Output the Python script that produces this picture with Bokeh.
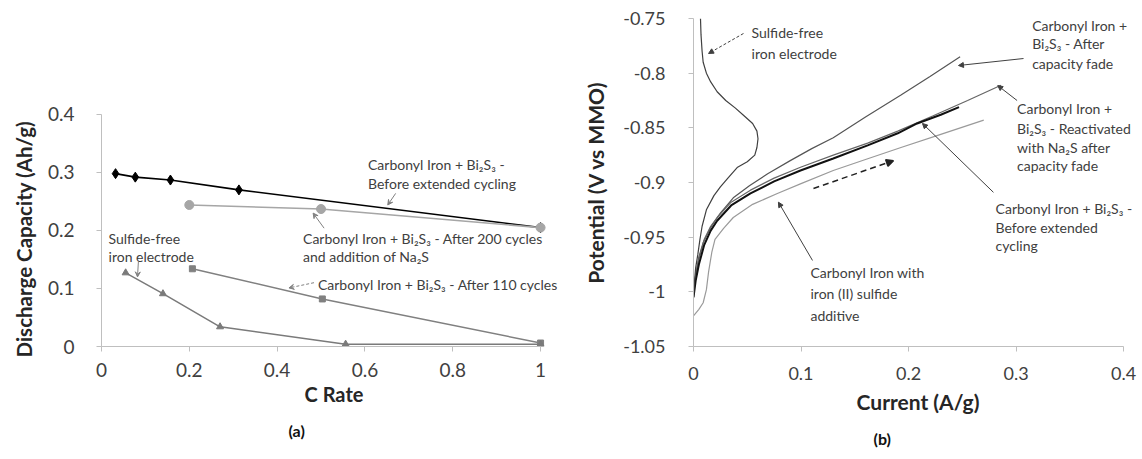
from bokeh.plotting import figure
from bokeh.layouts import row
from bokeh.models import Range1d, Label, Arrow, NormalHead, VeeHead, NumeralTickFormatter, FixedTicker, Title
from bokeh.embed import file_html
from bokeh.resources import INLINE

# ---------------- data: panel (a) ----------------
c_rate_before = [0.032, 0.077, 0.157, 0.313, 1.0]
cap_before = [0.298, 0.292, 0.287, 0.270, 0.205]
c_rate_200 = [0.2, 0.5, 1.0]
cap_200 = [0.244, 0.237, 0.205]
c_rate_110 = [0.207, 0.503, 1.0]
cap_110 = [0.134, 0.082, 0.006]
c_rate_free = [0.055, 0.14, 0.27, 0.556, 1.0]
cap_free = [0.127, 0.091, 0.034, 0.004, 0.004]
a_xticks = [0, 0.2, 0.4, 0.6, 0.8, 1]
a_yticks = [0, 0.1, 0.2, 0.3, 0.4]

# ---------------- data: panel (b) ----------------
cur_free = [0.0, 0.001, 0.002, 0.004, 0.006, 0.008, 0.012, 0.019, 0.025, 0.032,
            0.041, 0.050, 0.057, 0.059, 0.060, 0.059, 0.055, 0.047, 0.039, 0.030,
            0.022, 0.016, 0.012, 0.009, 0.008, 0.007, 0.0065]
pot_free = [-1.005, -0.99, -0.978, -0.966, -0.952, -0.94, -0.925, -0.912, -0.904, -0.896,
            -0.886, -0.881, -0.875, -0.868, -0.86, -0.853, -0.846, -0.839, -0.832, -0.825,
            -0.817, -0.808, -0.800, -0.79, -0.78, -0.765, -0.75]
cur_fade = [0.0, 0.002, 0.005, 0.009, 0.016, 0.025, 0.037, 0.052, 0.069, 0.09, 0.11, 0.13, 0.16, 0.193, 0.22, 0.248]
pot_fade = [-1.0, -0.985, -0.968, -0.955, -0.941, -0.928, -0.914, -0.903, -0.892, -0.88, -0.869, -0.859, -0.84, -0.820, -0.803, -0.785]
cur_react = [0.0, 0.002, 0.005, 0.01, 0.016, 0.022, 0.035, 0.053, 0.075, 0.0995, 0.13, 0.162, 0.19, 0.223, 0.255, 0.286]
pot_react = [-1.0, -0.985, -0.97, -0.952, -0.94, -0.932, -0.918, -0.907, -0.896, -0.886, -0.875, -0.864, -0.853, -0.839, -0.825, -0.811]
cur_before = [0.0, 0.002, 0.005, 0.01, 0.016, 0.022, 0.035, 0.053, 0.075, 0.0995, 0.13, 0.162, 0.19, 0.208, 0.23, 0.247]
pot_before = [-1.005, -0.99, -0.975, -0.957, -0.944, -0.935, -0.921, -0.910, -0.899, -0.889, -0.878, -0.866, -0.855, -0.846, -0.838, -0.831]
cur_fes = [0.0, 0.005, 0.009, 0.012, 0.014, 0.017, 0.020, 0.028, 0.037, 0.055, 0.078, 0.10, 0.13, 0.16, 0.193, 0.23, 0.270]
pot_fes = [-1.022, -1.016, -1.010, -0.998, -0.982, -0.964, -0.952, -0.942, -0.932, -0.920, -0.910, -0.901, -0.889, -0.879, -0.868, -0.856, -0.843]
b_xticks = [0, 0.1, 0.2, 0.3, 0.4]
b_yticks = [-0.75, -0.8, -0.85, -0.9, -0.95, -1, -1.05]

FONT = "Lato"
AXIS_GRAY = "#bfbfbf"
TXT = "#404040"
TOP, BOTTOM, HEIGHT = 18, 111, 457


def style_axes(p, tick_size, title_size, xl_standoff, yl_standoff, xt_standoff, yt_standoff):
    p.grid.visible = False
    p.outline_line_color = None
    for ax in (p.xaxis, p.yaxis):
        ax.axis_line_color = AXIS_GRAY
        ax.major_tick_line_color = AXIS_GRAY
        ax.major_tick_out = 5
        ax.major_tick_in = 0
        ax.minor_tick_line_color = None
        ax.major_label_text_font = FONT
        ax.major_label_text_font_size = tick_size
        ax.major_label_text_color = TXT
        ax.axis_label_text_font = FONT
        ax.axis_label_text_font_style = "bold"
        ax.axis_label_text_font_size = title_size
        ax.axis_label_text_color = "#262626"
        ax.formatter = NumeralTickFormatter(format="0.[00]")
    p.xaxis.axis_label_standoff = xl_standoff
    p.yaxis.axis_label_standoff = yl_standoff
    p.xaxis.major_label_standoff = xt_standoff
    p.yaxis.major_label_standoff = yt_standoff


def label(p, x, y, text, size, color=TXT):
    p.add_layout(Label(x=x, y=y, text=text, text_font=FONT, text_font_size=size,
                       text_color=color, text_baseline="middle", text_align="left"))


def arrow(p, x0, y0, x1, y1, color, width=1.0, dash="solid", head_size=6, vee=False):
    head = (VeeHead(size=head_size, line_color=color, fill_color=color, line_width=width) if vee
            else NormalHead(size=head_size, line_color=color, fill_color=color, line_width=width))
    p.add_layout(Arrow(end=head, x_start=x0, y_start=y0, x_end=x1, y_end=y1,
                       line_color=color, line_width=width, line_dash=dash))


def side_title(p, text, side, size, offset, standoff, color="#111111"):
    p.add_layout(Title(text=text, align="left", text_font=FONT, text_font_size=size,
                       text_font_style="bold", text_color=color, offset=offset,
                       standoff=standoff), side)


# ================= panel (a) =================
p1 = figure(width=566, height=HEIGHT, x_range=Range1d(0, 1.0591), y_range=Range1d(0, 0.5655),
            output_backend="svg", toolbar_location=None,
            min_border_left=100, min_border_right=0, min_border_top=TOP, min_border_bottom=BOTTOM,
            x_axis_label="C Rate")
style_axes(p1, "19px", "20px", 2, 0, 11, 22)
p1.xaxis.ticker = FixedTicker(ticks=a_xticks)
p1.yaxis.ticker = FixedTicker(ticks=a_yticks)
p1.xaxis.bounds = (0, 1)
p1.yaxis.bounds = (0, 0.4)
side_title(p1, "Discharge Capacity (Ah/g)", "left", "20.5px", -11, 18, color="#262626")

p1.line(c_rate_before, cap_before, line_color="black", line_width=1.6)
p1.scatter(c_rate_before, cap_before, marker="diamond", size=10, color="black")
p1.line(c_rate_200, cap_200, line_color="#a6a6a6", line_width=1.6)
p1.scatter(c_rate_200, cap_200, marker="circle", size=9, color="#a6a6a6")
p1.line(c_rate_110, cap_110, line_color="#808080", line_width=1.5)
p1.scatter(c_rate_110, cap_110, marker="square", size=6, color="#808080")
p1.line(c_rate_free, cap_free, line_color="#7a7a7a", line_width=1.5)
p1.scatter(c_rate_free, cap_free, marker="triangle", size=7, color="#7a7a7a")

label(p1, 0.607, 0.314, "Carbonyl Iron + Bi₂S₃ -", "14px")
label(p1, 0.607, 0.2815, "Before extended cycling", "14px")
arrow(p1, 0.670, 0.264, 0.652, 0.244, "#808080", vee=True, head_size=5)
label(p1, 0.459, 0.187, "Carbonyl Iron + Bi₂S₃ - After 200 cycles", "14px")
label(p1, 0.459, 0.1545, "and addition of Na₂S", "14px")
arrow(p1, 0.507, 0.204, 0.482, 0.230, "#808080", vee=True, head_size=5)
label(p1, 0.493, 0.1064, "Carbonyl Iron + Bi₂S₃ - After 110 cycles", "14px")
arrow(p1, 0.484, 0.110, 0.427, 0.101, "#808080", dash="3 2", vee=True, head_size=5)
label(p1, 0.016, 0.187, "Sulfide-free", "14px")
label(p1, 0.016, 0.156, "iron electrode", "14px")
arrow(p1, 0.084, 0.146, 0.082, 0.120, "#808080", vee=True, head_size=5)
side_title(p1, "(a)", "below", "16px", 187, 21)

# ================= panel (b) =================
p2 = figure(width=576, height=HEIGHT, x_range=Range1d(0, 0.41767), y_range=Range1d(-1.05, -0.75),
            output_backend="svg", toolbar_location=None,
            min_border_left=127, min_border_right=0, min_border_top=TOP, min_border_bottom=BOTTOM,
            x_axis_label="Current (A/g)", y_axis_label="Potential (V vs MMO)")
style_axes(p2, "18px", "21px", 6, 12, 15, 23)
p2.xaxis.ticker = FixedTicker(ticks=b_xticks)
p2.yaxis.ticker = FixedTicker(ticks=b_yticks)
p2.xaxis.bounds = (0, 0.4)

p2.line(cur_fes, pot_fes, line_color="#9a9a9a", line_width=1.2)
p2.line(cur_fade, pot_fade, line_color="#555555", line_width=1.2)
p2.line(cur_react, pot_react, line_color="#666666", line_width=1.2)
p2.line(cur_before, pot_before, line_color="#111111", line_width=2.0)
p2.line(cur_free, pot_free, line_color="#404040", line_width=1.2)

label(p2, 0.054, -0.7628, "Sulfide-free", "14px")
label(p2, 0.054, -0.782, "iron electrode", "14px")
arrow(p2, 0.0465, -0.7637, 0.014, -0.782, "#404040", dash="3 2", head_size=5)

label(p2, 0.315, -0.7564, "Carbonyl Iron +", "14px")
label(p2, 0.315, -0.7729, "Bi₂S₃ - After", "14px")
label(p2, 0.315, -0.7912, "capacity fade", "14px")
arrow(p2, 0.307, -0.7866, 0.2465, -0.793, "#404040", head_size=5)

label(p2, 0.301, -0.8323, "Carbonyl Iron +", "14px")
label(p2, 0.301, -0.8506, "Bi₂S₃ - Reactivated", "14px")
label(p2, 0.301, -0.868, "with Na₂S after", "14px")
label(p2, 0.301, -0.8845, "capacity fade", "14px")
arrow(p2, 0.301, -0.825, 0.283, -0.8113, "#404040", head_size=5)

label(p2, 0.281, -0.9238, "Carbonyl Iron + Bi₂S₃ -", "14px")
label(p2, 0.281, -0.9412, "Before extended", "14px")
label(p2, 0.281, -0.9576, "cycling", "14px")
arrow(p2, 0.279, -0.909, 0.213, -0.846, "#404040", head_size=5)

label(p2, 0.1088, -0.9823, "Carbonyl Iron with", "14px")
label(p2, 0.1088, -1.0015, "iron (II) sulfide", "14px")
label(p2, 0.1088, -1.0217, "additive", "14px")
arrow(p2, 0.1107, -0.9713, 0.079, -0.918, "#404040", head_size=5)

arrow(p2, 0.1116, -0.9055, 0.186, -0.880, "#222222", width=1.5, dash="6 4", head_size=7)
side_title(p2, "(b)", "below", "16px", 180, 20)

layout = row(p1, p2)
open("out.html", "w").write(file_html(layout, INLINE))
